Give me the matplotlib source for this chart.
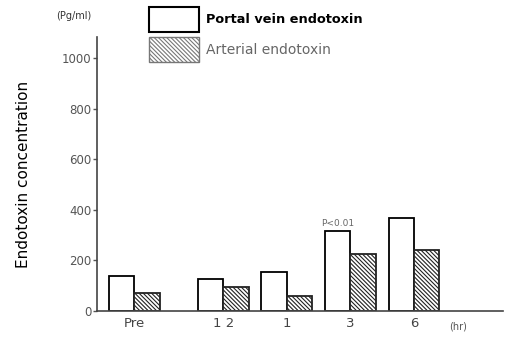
import matplotlib
matplotlib.use("Agg")
import matplotlib.pyplot as plt
import numpy as np

# Time points and endotoxin levels (pg/ml)
categories = ["Pre", "1 2", "1", "3", "6"]
portal_vein = [140, 128, 155, 316, 366]
arterial = [70, 95, 60, 226, 240]

y_ticks = [0, 200, 400, 600, 800, 1000]

plt.rcParams["hatch.linewidth"] = 0.8
plt.rcParams["hatch.color"] = "#333333"

HATCH = "\\" * 8

fig = plt.figure(figsize=(5.05, 3.37), dpi=100)
ax = fig.add_axes([0.192, 0.077, 0.805, 0.813])

positions = np.array([-1.4, 0.0, 1.0, 2.0, 3.0])
width = 0.4

ax.bar(positions - width / 2, portal_vein, width, color="white",
       edgecolor="black", linewidth=1.3, label="Portal vein endotoxin")
ax.bar(positions + width / 2, arterial, width, color="white",
       edgecolor="#222222", linewidth=1.3, hatch=HATCH,
       label="Arterial endotoxin")

ax.set_xlim(-1.99, 4.41)
ax.set_ylim(0, 1083)

for s in ["top", "right"]:
    ax.spines[s].set_visible(False)
for s in ["left", "bottom"]:
    ax.spines[s].set_color("#444444")
    ax.spines[s].set_linewidth(1.2)

ax.set_yticks(y_ticks)
ax.set_yticklabels([str(v) for v in y_ticks], fontsize=8.5, color="#555555")
ax.tick_params(axis="y", direction="out", length=3, width=1, color="#555555", pad=1)

ax.set_xticks(positions)
ax.set_xticklabels(categories, fontsize=9.5, color="#444444")
ax.tick_params(axis="x", length=0, pad=4)

ax.set_ylabel("Endotoxin concentration", fontsize=11, labelpad=22)

ax.text(-0.057, 1.077, "(Pg/ml)", transform=ax.transAxes, fontsize=7,
        ha="center", va="center", color="#333333")
ax.text(3.69, -60, "(hr)", fontsize=7, color="#555555", ha="center", va="center",
        clip_on=False)

ax.text(positions[3] - width / 2, portal_vein[3] + 12, "P<0.01", fontsize=6.5,
        color="#666666", ha="center", va="bottom")

# Legend drawn as boxes and text in figure coordinates
leg_boxes = [
    (dict(facecolor="white", edgecolor="black", linewidth=1.5), 0.904,
     "Portal vein endotoxin", dict(color="black", fontweight="bold", fontsize=9.3)),
    (dict(facecolor="white", edgecolor="#777777", linewidth=1.0,
          hatch=HATCH), 0.815,
     "Arterial endotoxin", dict(color="#666666", fontsize=10)),
]
for props, yb, text, tprops in leg_boxes:
    rect = matplotlib.patches.Rectangle((149 / 505, yb), 50 / 505, 25 / 337,
                                        transform=fig.transFigure, **props)
    fig.patches.append(rect)
    fig.text(206 / 505, yb + 12.5 / 337, text, va="center", ha="left", **tprops)

fig.savefig("out.png", dpi=100)
